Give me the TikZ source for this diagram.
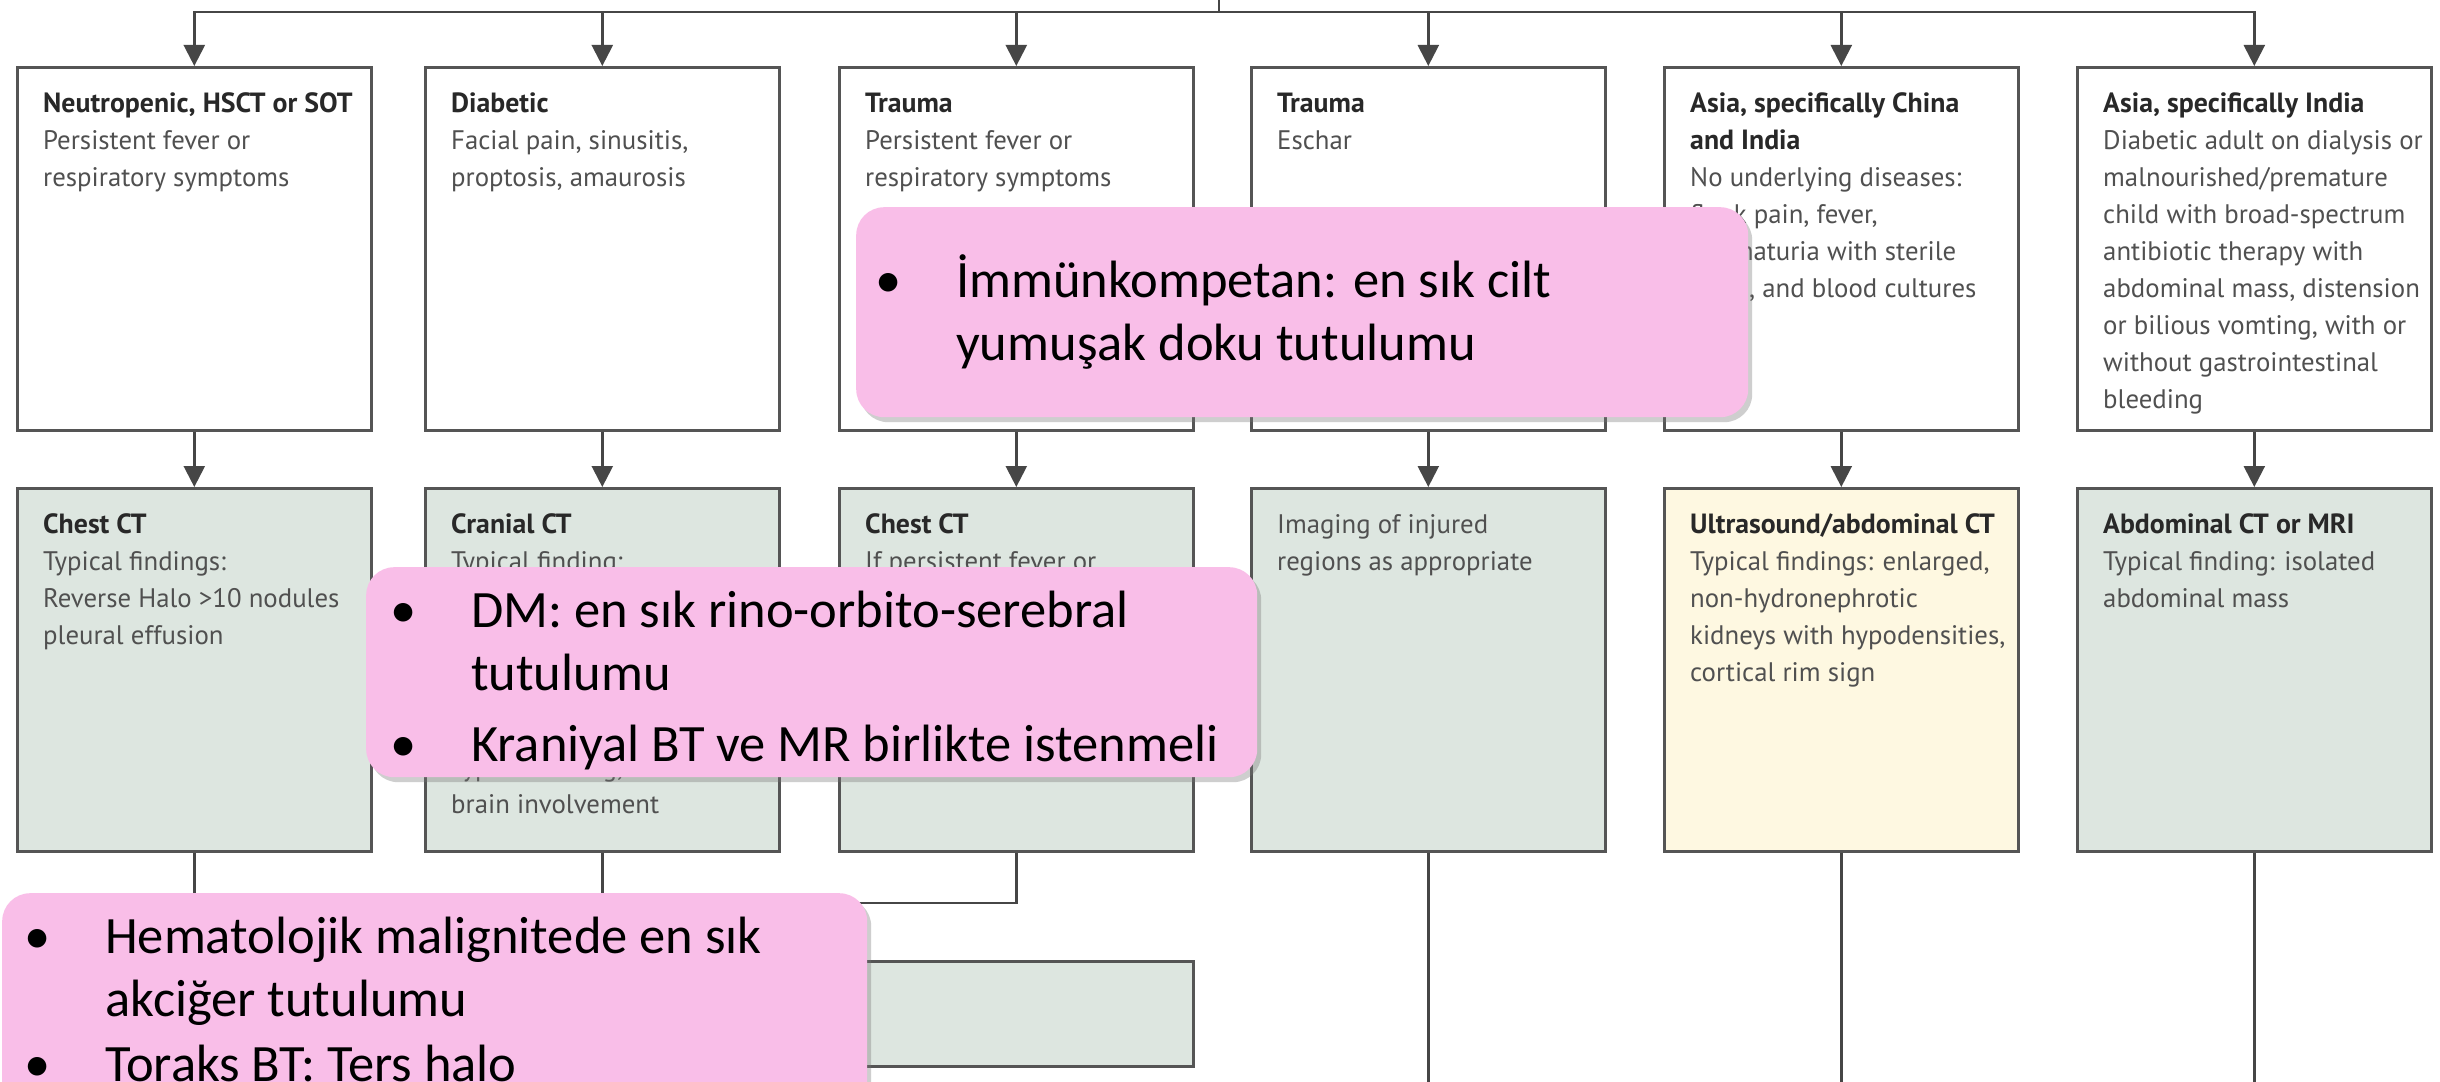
\documentclass[tikz,border=0pt]{standalone}
\usepackage{fontspec}
\setmainfont{PT Sans}
\newfontfamily\calib{Carlito}
\usetikzlibrary{arrows.meta,shadows}

\definecolor{tealbox}{RGB}{221,230,224}
\definecolor{creambox}{RGB}{254,248,225}
\definecolor{notepink}{RGB}{249,190,232}
\definecolor{rulegray}{RGB}{85,85,85}
\definecolor{linegray}{RGB}{70,70,70}
\definecolor{bodytext}{RGB}{80,80,80}
\definecolor{headtext}{RGB}{40,40,40}

\newcommand\hd[1]{{\fontsize{27.8}{37}\selectfont\bfseries\color{headtext}#1}}
\newcommand\bul{\makebox[81pt][l]{•}}
\newcommand\hangin{\hspace*{81pt}}
% stacked lines whose reference point is the first baseline
\newcommand\stack[1]{\begin{tabular}[t]{@{}l@{}}#1\end{tabular}}

\tikzset{
  box/.style={draw=rulegray, line width=2.6pt, anchor=north west,
    minimum width=354pt, minimum height=363pt, inner sep=0pt},
  plain/.style={box, fill=white},
  imaging/.style={box, fill=tealbox},
  renal/.style={box, fill=creambox},
  boxtext/.style={anchor=base west, inner sep=0pt,
    text=bodytext, font=\fontsize{26.8}{37}\selectfont,
    xshift=27pt, yshift=-46pt},
  link/.style={draw=linegray, line width=2.4pt},
  arr/.style={link, -{Triangle[length=21pt,width=21pt]}},
  note/.style={fill=notepink, rounded corners=28pt, anchor=north west,
    inner sep=0pt,
    drop shadow={shadow xshift=4pt, shadow yshift=-5pt, opacity=0.35, fill=black!55}},
  notetext/.style={anchor=base west, inner sep=0pt,
    text=black, font=\calib\fontsize{52.5}{63}\selectfont},
}

\begin{document}
\begin{tikzpicture}[x=1pt, y=-1pt]
\useasboundingbox[fill=white] (0,0) rectangle (2440,1081);

% incoming stem and branch point
\coordinate (src) at (1219,0);
\coordinate (hub) at (1219,12);

% first row: patient groups
\node[plain] (t1) at (16,66)   {};
\node[plain] (t2) at (424,66)  {};
\node[plain] (t3) at (838,66)  {};
\node[plain] (t4) at (1250,66) {};
\node[plain] (t5) at (1663,66) {};
\node[plain] (t6) at (2076,66) {};

\node[boxtext] (t1x) at (t1.north west) {\stack{\hd{Neutropenic, HSCT or SOT}\\Persistent fever or\\respiratory symptoms}};
\node[boxtext] (t2x) at (t2.north west) {\stack{\hd{Diabetic}\\Facial pain, sinusitis,\\proptosis, amaurosis}};
\node[boxtext] (t3x) at (t3.north west) {\stack{\hd{Trauma}\\Persistent fever or\\respiratory symptoms}};
\node[boxtext] (t4x) at (t4.north west) {\stack{\hd{Trauma}\\Eschar}};
\node[boxtext] (t5x) at (t5.north west) {\stack{\hd{Asia, specifically China}\\\hd{and India}\\No underlying diseases:\\flank pain, fever,\\haematuria with sterile\\urine, and blood cultures}};
\node[boxtext] (t6x) at (t6.north west) {\stack{\hd{Asia, specifically India}\\Diabetic adult on dialysis or\\malnourished/premature\\child with broad-spectrum\\antibiotic therapy with\\abdominal mass, distension\\or bilious vomting, with or\\without gastrointestinal\\bleeding}};

% second row: imaging
\node[imaging] (b1) at (16,487)   {};
\node[imaging] (b2) at (424,487)  {};
\node[imaging] (b3) at (838,487)  {};
\node[imaging] (b4) at (1250,487) {};
\node[renal]   (b5) at (1663,487) {};
\node[imaging] (b6) at (2076,487) {};

\node[boxtext] (b1x) at (b1.north west) {\stack{\hd{Chest CT}\\Typical findings:\\Reverse Halo >10 nodules\\pleural effusion}};
\node[boxtext] (b2x) at (b2.north west) {\stack{\hd{Cranial CT}\\Typical finding:\\[169pt]Typical finding,\\brain involvement}};
\node[boxtext] (b3x) at (b3.north west) {\stack{\hd{Chest CT}\\If persistent fever or}};
\node[boxtext] (b4x) at (b4.north west) {\stack{Imaging of injured\\regions as appropriate}};
\node[boxtext] (b5x) at (b5.north west) {\stack{\hd{Ultrasound/abdominal CT}\\Typical findings: enlarged,\\non-hydronephrotic\\kidneys with hypodensities,\\cortical rim sign}};
\node[boxtext] (b6x) at (b6.north west) {\stack{\hd{Abdominal CT or MRI}\\Typical finding: isolated\\abdominal mass}};

% third row
\node[box, fill=tealbox, minimum height=105pt] (c3) at (838,960) {};

% connectors
\draw[link] (src) -- (hub);
\foreach \k in {1,...,6} {
  \draw[arr] (hub) -| (t\k.north);
  \draw[arr] (t\k.south) -- (b\k.north);
}
\coordinate (join) at (1015,903);
\draw[link] (b3.south) |- (b1.south |- join);
\draw[link] (b1.south) -- (b1.south |- join);
\draw[link] (b2.south) -- (b2.south |- join);
\coordinate (bottom) at (0,1085);
\draw[link] (b4.south) -- (b4.south |- bottom);
\draw[link] (b5.south) -- (b5.south |- bottom);
\draw[link] (b6.south) -- (b6.south |- bottom);

% overlaid notes
\node[note, minimum width=892pt, minimum height=210pt] (n1) at (856,207) {};
\node[notetext, xshift=19pt, yshift=-90pt] (n1x) at (n1.north west)
  {\stack{\bul İmmünkompetan: en sık cilt\\\hangin yumuşak doku tutulumu}};

\node[note, minimum width=891pt, minimum height=210pt] (n2) at (366,567) {};
\node[notetext, xshift=24pt, yshift=-60pt] (n2x) at (n2.north west)
  {\stack{\bul DM: en sık rino-orbito-serebral\\\hangin tutulumu\\[8pt]\bul Kraniyal BT ve MR birlikte istenmeli}};

\node[note, minimum width=865pt, minimum height=260pt] (n3) at (2,893) {};
\node[notetext, xshift=22pt, yshift=-60pt] (n3x) at (n3.north west)
  {\stack{\bul Hematolojik malignitede en sık\\\hangin akciğer tutulumu\\[2pt]\bul Toraks BT: Ters halo}};
\end{tikzpicture}
\end{document}
